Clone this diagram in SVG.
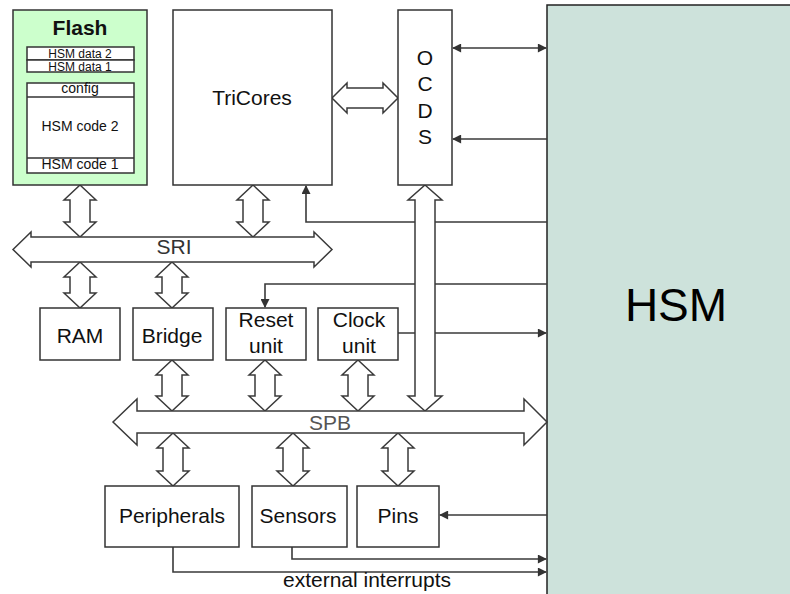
<svg xmlns="http://www.w3.org/2000/svg" width="790" height="594" viewBox="0 0 790 594">
<defs>
<marker id="ah" viewBox="0 0 10 10" refX="9" refY="5" markerWidth="10" markerHeight="9" markerUnits="userSpaceOnUse" orient="auto-start-reverse">
<path d="M0,0 L10,5 L0,10 Z" fill="#333"/>
</marker>
</defs>
<style>
text{font-family:"Liberation Sans",Arial,sans-serif;fill:#111;text-anchor:middle}
.box{fill:#fff;stroke:#333;stroke-width:1.5}
.t{font-size:21px}
.s{font-size:14px}
.xs{font-size:12px}
.ln{fill:none;stroke:#3a3a3a;stroke-width:1.6}
.ba{fill:#fff;stroke:#3a3a3a;stroke-width:1.5;stroke-linejoin:miter}
</style>
<rect width="790" height="594" fill="#fff"/>

<g id="hsm">
<rect x="547" y="5" width="260" height="600" fill="#cde2db" stroke="#222" stroke-width="1.5"/>
<text x="676" y="321" style="font-size:46px;fill:#000">HSM</text>
</g>

<g id="connectors">
<path class="ln" d="M453,48 H546" marker-start="url(#ah)" marker-end="url(#ah)"/>
<path class="ln" d="M547,139 H453" marker-end="url(#ah)"/>
<path class="ln" d="M547,222 H306 V186" marker-end="url(#ah)"/>
<path class="ln" d="M547,284 H265 V307" marker-end="url(#ah)"/>
<path class="ln" d="M398,333 H546" marker-end="url(#ah)"/>
<path class="ln" d="M547,515 H440" marker-end="url(#ah)"/>
<path class="ln" d="M292,547 V559 H546" marker-end="url(#ah)"/>
<path class="ln" d="M173,547 V572 H546" marker-end="url(#ah)"/>
<path class="ba" d="M332,98 L347,83 L347,88 L383,88 L383,83 L398,98 L383,113 L383,108 L347,108 L347,113 Z"/>
<path class="ba" d="M80,185 L96,200 L90,200 L90,222 L96,222 L80,237 L64,222 L70,222 L70,200 L64,200 Z"/>
<path class="ba" d="M253,185 L269,200 L263,200 L263,222 L269,222 L253,237 L237,222 L243,222 L243,200 L237,200 Z"/>
<path class="ba" d="M80,262 L96,277 L90,277 L90,293 L96,293 L80,308 L64,293 L70,293 L70,277 L64,277 Z"/>
<path class="ba" d="M172,262 L188,277 L182,277 L182,293 L188,293 L172,308 L156,293 L162,293 L162,277 L156,277 Z"/>
<path class="ba" d="M172,360 L188,375 L182,375 L182,396 L188,396 L172,411 L156,396 L162,396 L162,375 L156,375 Z"/>
<path class="ba" d="M265,360 L281,375 L275,375 L275,396 L281,396 L265,411 L249,396 L255,396 L255,375 L249,375 Z"/>
<path class="ba" d="M358,360 L374,375 L368,375 L368,396 L374,396 L358,411 L342,396 L348,396 L348,375 L342,375 Z"/>
<path class="ba" d="M425,185 L442,200 L435,200 L435,396 L442,396 L425,411 L408,396 L415,396 L415,200 L408,200 Z"/>
<path class="ba" d="M173,433 L189,448 L183,448 L183,471 L189,471 L173,486 L157,471 L163,471 L163,448 L157,448 Z"/>
<path class="ba" d="M293,433 L309,448 L303,448 L303,471 L309,471 L293,486 L277,471 L283,471 L283,448 L277,448 Z"/>
<path class="ba" d="M398,433 L414,448 L408,448 L408,471 L414,471 L398,486 L382,471 L388,471 L388,448 L382,448 Z"/>
</g>

<g id="sri">
<path class="ba" d="M13,249.5 L31,232 L31,237 L314,237 L314,232 L332,249.5 L314,267 L314,262 L31,262 L31,267 Z"/>
<text x="174" y="254" class="t" style="fill:#333">SRI</text>
</g>

<g id="spb">
<path class="ba" d="M113,422 L137,399 L137,411 L524,411 L524,399 L547,422 L524,445 L524,433 L137,433 L137,445 Z"/>
<text x="330" y="430" class="t" style="fill:#555">SPB</text>
</g>

<g id="flash">
<rect x="13" y="10" width="134" height="175" fill="#ccffcc" stroke="#333" stroke-width="1.5"/>
<text x="80" y="35" style="font-size:21px;font-weight:bold">Flash</text>
<rect class="box" x="27" y="47" width="107" height="13"/>
<rect class="box" x="27" y="60" width="107" height="12"/>
<text x="80" y="58" class="xs">HSM data 2</text>
<text x="80" y="70.5" class="xs">HSM data 1</text>
<rect class="box" x="27" y="83" width="107" height="90"/>
<line x1="27" y1="97" x2="134" y2="97" stroke="#333" stroke-width="1.5"/>
<line x1="27" y1="158" x2="134" y2="158" stroke="#333" stroke-width="1.5"/>
<text x="80" y="93" class="s">config</text>
<text x="80" y="131" class="s">HSM code 2</text>
<text x="80" y="169" class="s">HSM code 1</text>
</g>

<g id="tricores">
<rect class="box" x="173" y="10" width="159" height="175"/>
<text x="252" y="105" class="t">TriCores</text>
</g>

<g id="ocds">
<rect class="box" x="398" y="10" width="54" height="175"/>
<text x="425" y="65" class="t">O</text>
<text x="425" y="91" class="t">C</text>
<text x="425" y="118" class="t">D</text>
<text x="425" y="144" class="t">S</text>
</g>

<g id="ram">
<rect class="box" x="40" y="308" width="80" height="52"/>
<text x="80" y="343" class="t">RAM</text>
</g>

<g id="bridge">
<rect class="box" x="133" y="308" width="80" height="52"/>
<text x="172" y="343" class="t">Bridge</text>
</g>

<g id="reset">
<rect class="box" x="226" y="308" width="80" height="52"/>
<text x="266" y="327" class="t">Reset</text>
<text x="266" y="353" class="t">unit</text>
</g>

<g id="clock">
<rect class="box" x="318" y="308" width="80" height="52"/>
<text x="359" y="327" class="t">Clock</text>
<text x="359" y="353" class="t">unit</text>
</g>

<g id="peripherals">
<rect class="box" x="105" y="486" width="134" height="61"/>
<text x="172" y="523" class="t">Peripherals</text>
</g>

<g id="sensors">
<rect class="box" x="252" y="486" width="95" height="61"/>
<text x="298" y="523" class="t">Sensors</text>
</g>

<g id="pins">
<rect class="box" x="357" y="486" width="82" height="61"/>
<text x="398" y="523" class="t">Pins</text>
</g>

<text x="367" y="587" class="t">external interrupts</text>
</svg>
